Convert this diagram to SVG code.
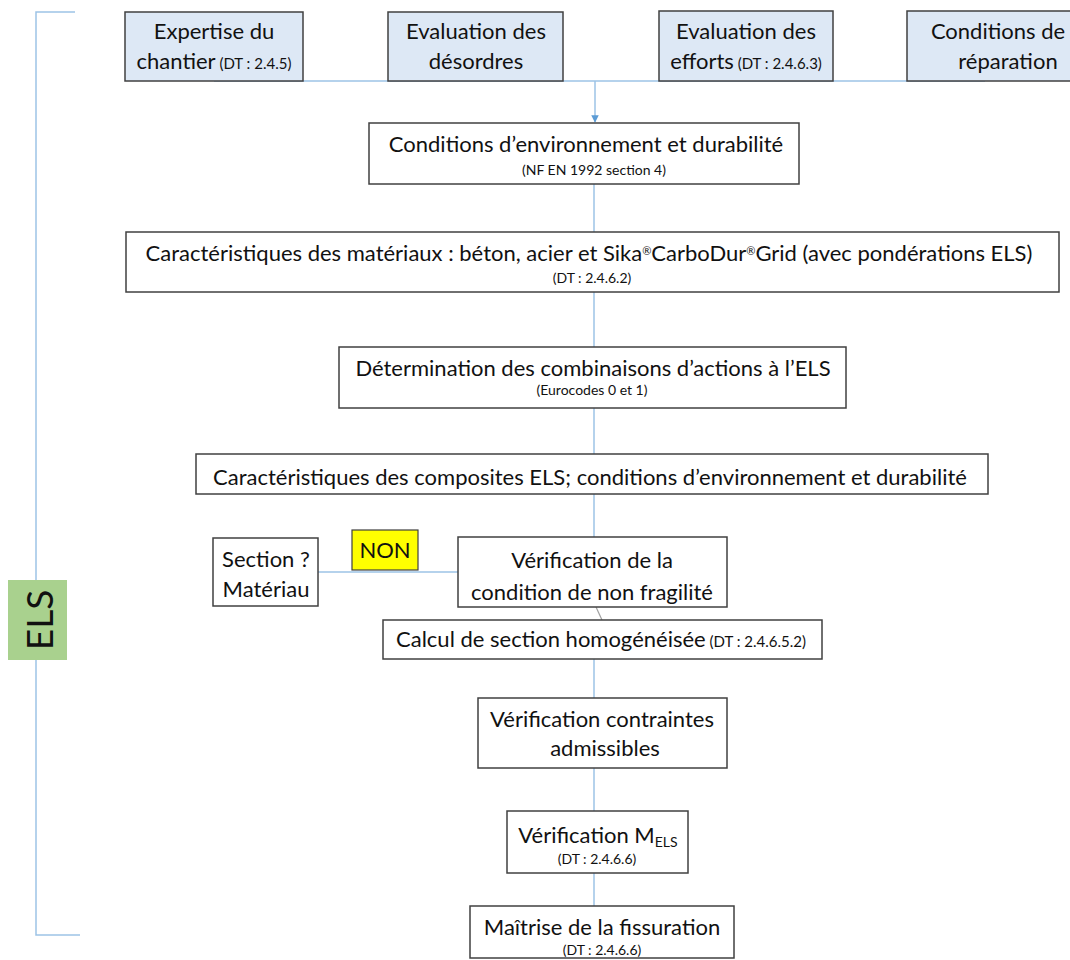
<svg xmlns="http://www.w3.org/2000/svg" width="1070" height="960" viewBox="0 0 1070 960">
<defs>
<style>
.box{fill:#ffffff;stroke:#404040;stroke-width:1.5}
.top{fill:#dde8f5;stroke:#404040;stroke-width:1.5}
.t{font-family:Lato,"Liberation Sans",sans-serif;font-size:22px;fill:#111111;text-anchor:middle}
.s{font-family:Lato,"Liberation Sans",sans-serif;font-size:14px;fill:#111111;text-anchor:middle}
.d{font-size:15px}
.r{font-size:11px}
.c{stroke:#9dc3e6;stroke-width:1.5;fill:none}
</style>
<marker id="arr" viewBox="0 0 10 10" refX="9" refY="5" markerWidth="5" markerHeight="5" orient="auto">
<path d="M0,0 L10,5 L0,10 z" fill="#5b9bd5"/>
</marker>
</defs>
<rect width="1070" height="960" fill="#ffffff"/>

<g id="connectors">
<path class="c" d="M75,12 H36 V935 H80"/>
<path class="c" d="M214,81 H985"/>
<path class="c" d="M595,81 V122" marker-end="url(#arr)"/>
<path class="c" d="M594,184 V232"/>
<path class="c" d="M594,292 V347"/>
<path class="c" d="M594,408 V454"/>
<path class="c" d="M594,494 V537"/>
<path class="c" d="M318,572 H458"/>
<path d="M596,607 L602,620" stroke="#a0a0a0" stroke-width="1.2"/>
<path class="c" d="M594,659 V698"/>
<path class="c" d="M594,768 V811"/>
<path class="c" d="M594,873 V906"/>
</g>

<g id="els">
<rect x="8" y="580" width="59" height="80" fill="#a9d18e"/>
<text transform="translate(53,620) rotate(-90)" class="t" style="font-size:37px">ELS</text>
</g>

<g id="expertise">
<rect class="top" x="125" y="12" width="178" height="69"/>
<text class="t" x="214" y="39">Expertise du</text>
<text class="t" x="214" y="69">chantier<tspan class="d"> (DT : 2.4.5)</tspan></text>
</g>
<g id="desordres">
<rect class="top" x="388" y="12" width="175" height="69"/>
<text class="t" x="476" y="39">Evaluation des</text>
<text class="t" x="476" y="69">désordres</text>
</g>
<g id="efforts">
<rect class="top" x="659" y="11" width="174" height="70"/>
<text class="t" x="746" y="39">Evaluation des</text>
<text class="t" x="746" y="69">efforts<tspan class="d"> (DT : 2.4.6.3)</tspan></text>
</g>
<g id="reparation">
<rect class="top" x="907" y="11" width="180" height="70"/>
<text class="t" x="998" y="39">Conditions de</text>
<text class="t" x="1008" y="69">réparation</text>
</g>

<g id="env">
<rect class="box" x="369" y="123" width="430" height="61"/>
<text class="t" x="586" y="152">Conditions d’environnement et durabilité</text>
<text class="s" x="594" y="175">(NF EN 1992 section 4)</text>
</g>

<g id="materiaux">
<rect class="box" x="126" y="232" width="933" height="60"/>
<text class="t" x="589" y="261">Caractéristiques des matériaux : béton, acier et Sika<tspan class="r" baseline-shift="super">®</tspan>CarboDur<tspan class="r" baseline-shift="super">®</tspan>Grid (avec pondérations ELS)</text>
<text class="s" x="592" y="283">(DT : 2.4.6.2)</text>
</g>

<g id="combinaisons">
<rect class="box" x="339" y="347" width="507" height="61"/>
<text class="t" x="593" y="376">Détermination des combinaisons d’actions à l’ELS</text>
<text class="s" x="592" y="395">(Eurocodes 0 et 1)</text>
</g>

<g id="composites">
<rect class="box" x="196" y="454" width="792" height="40"/>
<text class="t" x="590" y="485">Caractéristiques des composites ELS; conditions d’environnement et durabilité</text>
</g>

<g id="section">
<rect class="box" x="213" y="538" width="105" height="68"/>
<text class="t" x="266" y="567">Section ?</text>
<text class="t" x="266" y="597">Matériau</text>
</g>

<g id="non">
<rect x="352" y="530" width="66" height="40" fill="#ffff00" stroke="#404040" stroke-width="1.2"/>
<text class="t" x="385" y="558">NON</text>
</g>

<g id="fragilite">
<rect class="box" x="458" y="537" width="269" height="70"/>
<text class="t" x="592" y="568">Vérification de la</text>
<text class="t" x="592" y="600">condition de non fragilité</text>
</g>

<g id="homogeneisee">
<rect class="box" x="383" y="620" width="439" height="39"/>
<text class="t" x="601" y="647">Calcul de section homogénéisée<tspan class="d"> (DT : 2.4.6.5.2)</tspan></text>
</g>

<g id="contraintes">
<rect class="box" x="478" y="698" width="249" height="70"/>
<text class="t" x="602" y="727">Vérification contraintes</text>
<text class="t" x="605" y="756">admissibles</text>
</g>

<g id="mels">
<rect class="box" x="507" y="811" width="181" height="62"/>
<text class="t" x="598" y="843">Vérification M<tspan style="font-size:14px" dy="4">ELS</tspan></text>
<text class="s" x="597" y="864">(DT : 2.4.6.6)</text>
</g>

<g id="fissuration">
<rect class="box" x="470" y="906" width="264" height="52"/>
<text class="t" x="602" y="935">Maîtrise de la fissuration</text>
<text class="s" x="602" y="955">(DT : 2.4.6.6)</text>
</g>
</svg>
